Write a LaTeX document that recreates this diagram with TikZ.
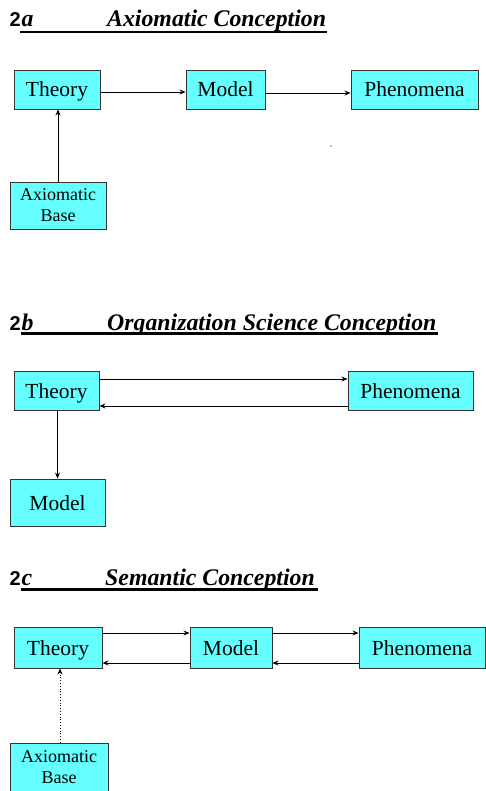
\documentclass[tikz,border=0pt]{standalone}
\usepackage{fontspec}
\setmainfont{Liberation Serif}
\newfontfamily\digitfont{Liberation Sans}
\usetikzlibrary{arrows.meta}
\definecolor{boxcyan}{HTML}{66FFFF}
\tikzset{
  box/.style={draw=black!80, line width=0.9pt, fill=boxcyan, inner sep=0pt,
    font=\fontsize{21.5}{24}\selectfont, text height=17pt, text depth=2pt},
  basebox/.style={draw=black!80, line width=0.9pt, fill=boxcyan, inner sep=0pt,
    align=center, font=\fontsize{18}{21}\selectfont},
  arr/.style={-{Stealth[length=6pt,width=5pt]}, line width=0.8pt},
  tnum/.style={anchor=base west, inner sep=0pt, font=\digitfont\bfseries\fontsize{20}{24}\selectfont},
  tletter/.style={anchor=base west, inner sep=0pt, font=\bfseries\itshape\fontsize{23.8}{28}\selectfont},
  ttitle/.style={anchor=base west, inner sep=0pt, font=\bfseries\itshape\fontsize{23.8}{28}\selectfont},
  uline/.style={line width=2.4pt}
}

\begin{document}
\begin{tikzpicture}[x=1pt, y=-1pt]
		\useasboundingbox (0,0) rectangle (486,791);
		
		%%%%% 2a %%%%%
		
		\node[tnum] (numA) at (9.5, 27) {2};
		\node[tletter] (letA) at (21.5, 27) {a};
		\node[ttitle] (titleA) at (107, 27) {Axiomatic Conception};
		\draw[uline] (20, 32) -- (327, 32);
		
		\node[box, minimum width=86pt, minimum height=39pt] (theoryA) at (57, 89.5) {Theory};
		\node[box, minimum width=79pt, minimum height=39pt] (modelA) at (225.5, 89.5) {Model};
		\node[box, minimum width=127pt, minimum height=39pt] (phenA) at (414.5, 89.5) {Phenomena};
		\node[basebox, minimum width=96pt, minimum height=47pt] (baseA) at (58, 205.5) {Axiomatic\\Base};
		
		\draw[arr] ([yshift=-2.5pt]theoryA.east) -- ([yshift=-2.5pt]modelA.west);
		\draw[arr] ([yshift=-3.5pt]modelA.east) -- ([yshift=-3.5pt]phenA.west);
		\draw[arr] (baseA.north) -- (baseA.north |- theoryA.south);
		
		\fill (331, 146) circle (0.7);
		
		%%%%% 2b %%%%%
		
		\node[tnum] (numB) at (9.5, 330) {2};
		\node[tletter] (letB) at (21.5, 330) {b};
		\node[ttitle] (titleB) at (107, 330) {Organization Science Conception};
		\draw[uline] (21, 333.5) -- (438, 333.5);
		
		\node[box, minimum width=85pt, minimum height=39pt] (theoryB) at (56.5, 390.5) {Theory};
		\node[box, minimum width=125pt, minimum height=39pt] (phenB) at (410.5, 390.5) {Phenomena};
		\node[box, minimum width=95pt, minimum height=47pt] (modelB) at (57.5, 502.5) {Model};
		
		\draw[arr] ([yshift=11.5pt]theoryB.east) -- ([yshift=11.5pt]phenB.west);
		\draw[arr] ([yshift=-15.5pt]phenB.west) -- ([yshift=-15.5pt]theoryB.east);
		\draw[arr] (modelB.north |- theoryB.south) -- (modelB.north);
		
		%%%%% 2c %%%%%
		
		\node[tnum] (numC) at (9.5, 585) {2};
		\node[tletter] (letC) at (21.5, 585) {c};
		\node[ttitle] (titleC) at (105, 585) {Semantic Conception};
		\draw[uline] (21, 589.5) -- (318, 589.5);
		
		\node[box, minimum width=88pt, minimum height=41pt] (theoryC) at (58, 647.5) {Theory};
		\node[box, minimum width=82pt, minimum height=41pt] (modelC) at (231, 647.5) {Model};
		\node[box, minimum width=126pt, minimum height=41pt] (phenC) at (422, 647.5) {Phenomena};
		\node[basebox, minimum width=98pt, minimum height=48pt] (baseC) at (59, 767) {Axiomatic\\Base};
		
		\draw[arr] ([yshift=14.5pt]theoryC.east) -- ([yshift=14.5pt]modelC.west);
		\draw[arr] ([yshift=14.5pt]modelC.east) -- ([yshift=14.5pt]phenC.west);
		\draw[arr] ([yshift=-15.5pt]modelC.west) -- ([yshift=-15.5pt]theoryC.east);
		\draw[arr] ([yshift=-15.5pt]phenC.west) -- ([yshift=-15.5pt]modelC.east);
		\draw[arr, dotted] ([xshift=1pt]baseC.north) -- ([xshift=1pt]baseC.north |- theoryC.south);
		
\end{tikzpicture}
\end{document}
